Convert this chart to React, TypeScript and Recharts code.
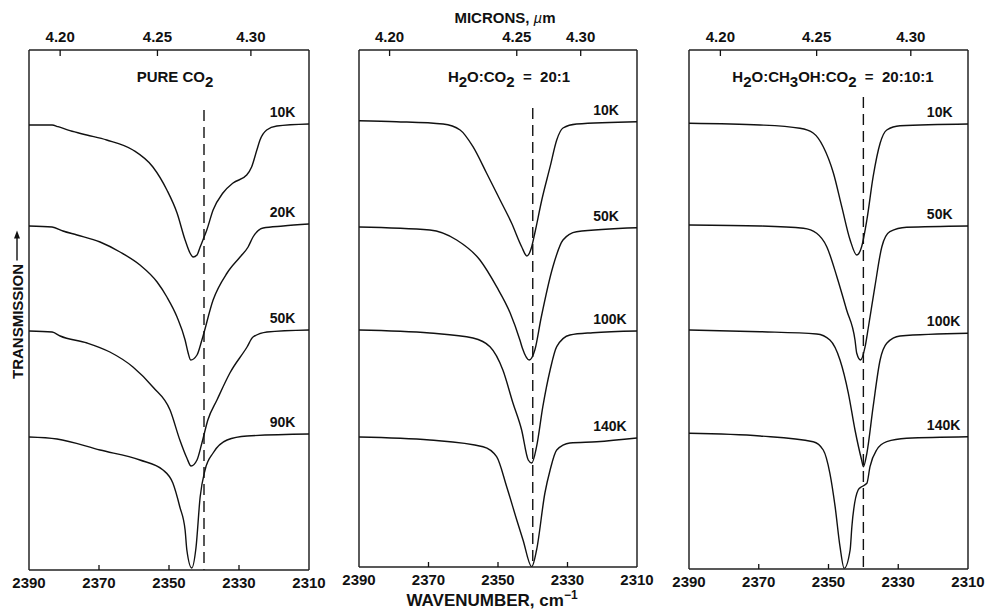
import React from 'react';
import { LineChart, Line, XAxis, YAxis, ReferenceLine, ReferenceDot } from 'recharts';

// ---------- DATA (wavenumber cm^-1, relative transmission with vertical offsets) ----------
const wavenumberTicks = [2390, 2370, 2350, 2330, 2310];
const micronLabels = ['4.20', '4.25', '4.30'];
// positions (in cm^-1) where the micron ticks sit in each panel of the original drawing
const micronTicksPure = [2381.1, 2353.3, 2326.6];
const micronTicksWater = [2381.2, 2344.6, 2326.2];
const micronTicksMeth = [2381.0, 2353.4, 2326.4];
const bandCentre = 2340;

const pureTemps = ['10K', '20K', '50K', '90K'];
const waterTemps = ['10K', '50K', '100K', '140K'];
const methTemps = ['10K', '50K', '100K', '140K'];

type P = [number, number];

const pure10K: P[] = [
  [2390, 44.5], [2383.4, 44.5], [2381.7, 44.33], [2378.3, 43.93], [2373.5, 43.5], [2367.8, 43.0],
  [2360.3, 42.0], [2354.6, 40.3], [2350.6, 38.0], [2347.7, 35.7], [2345.4, 33.0], [2344.0, 31.7],
  [2343.1, 31.3], [2342.0, 31.5], [2341.1, 32.3], [2340.3, 33.0], [2339.2, 34.0], [2337.4, 36.0],
  [2334.6, 37.7], [2331.7, 38.7], [2327.8, 39.5], [2326.4, 40.3], [2324.9, 42.0], [2324.0, 43.0],
  [2322.1, 44.0], [2319.2, 44.4], [2310, 44.6],
];
const pure20K: P[] = [
  [2390, 34.4], [2383.4, 34.3], [2380.3, 33.9], [2376.3, 33.5], [2369.7, 32.8], [2364.0, 31.8],
  [2358.3, 30.5], [2353.4, 28.8], [2350.6, 27.3], [2347.7, 25.3], [2345.4, 23.0], [2344.6, 21.8],
  [2343.8, 21.0], [2342.0, 21.5], [2340.6, 23.0], [2337.4, 27.0], [2333.4, 29.7], [2329.7, 31.3],
  [2327.4, 32.3], [2326.0, 33.3], [2323.1, 34.2], [2317.4, 34.4], [2310, 34.6],
];
const pure50K: P[] = [
  [2390, 23.9], [2383.4, 23.8], [2381.1, 23.4], [2373.4, 22.7], [2366.9, 21.8], [2360.3, 20.3],
  [2354.6, 18.3], [2349.7, 16.0], [2346.9, 13.0], [2344.9, 11.2], [2343.7, 10.4], [2342.0, 11.0],
  [2340.6, 12.7], [2338.9, 15.0], [2336.3, 17.0], [2332.6, 19.7], [2327.7, 22.3], [2326.0, 23.3],
  [2322.0, 23.8], [2310, 24.0],
];
const pure90K: P[] = [
  [2390, 13.3], [2382.0, 13.1], [2369.7, 12.0], [2358.3, 11.0], [2351.7, 10.0], [2348.9, 8.7],
  [2346.9, 6.3], [2345.4, 4.0], [2344.9, 2.0], [2343.5, 0.2], [2342.3, 2.2], [2341.1, 7.3],
  [2339.7, 10.0], [2337.4, 11.7], [2333.4, 13.0], [2327.7, 13.4], [2310, 13.6],
];

const water10K: P[] = [
  [2390, 44.93], [2379.2, 44.83], [2365.8, 44.6], [2360.9, 44.0], [2357.2, 42.33], [2353.3, 39.7],
  [2349.4, 37.0], [2346.1, 34.7], [2343.2, 32.33], [2341.7, 31.4], [2340.3, 32.33], [2339.4, 33.7],
  [2337.4, 37.0], [2335.0, 40.33], [2333.1, 43.0], [2331.3, 44.2], [2327.4, 44.6], [2310, 44.83],
];
const water50K: P[] = [
  [2390, 34.3], [2369.6, 34.0], [2361.9, 33.0], [2355.2, 31.0], [2350.4, 28.33], [2346.5, 25.7],
  [2343.7, 23.0], [2343.0, 22.2], [2341.0, 21.0], [2339.4, 22.0], [2337.6, 25.2], [2334.2, 30.33],
  [2331.3, 33.0], [2327.4, 33.83], [2310, 34.23],
];
const water100K: P[] = [
  [2390, 24.0], [2369.6, 23.7], [2357.2, 23.2], [2352.3, 22.33], [2348.6, 20.0], [2345.7, 16.7],
  [2343.2, 14.0], [2341.3, 11.0], [2340.3, 10.7], [2338.9, 12.33], [2337.1, 16.33], [2335.0, 20.0],
  [2333.1, 22.33], [2329.3, 23.5], [2322.7, 23.73], [2310, 23.9],
];
const water140K: P[] = [
  [2390, 13.3], [2369.6, 13.0], [2354.3, 12.33], [2350.4, 11.33], [2347.5, 8.33], [2344.6, 5.0],
  [2342.8, 3.0], [2340.3, 0.33], [2338.9, 2.0], [2336.5, 7.7], [2335.0, 10.0], [2333.1, 12.0],
  [2329.3, 12.7], [2321.6, 12.83], [2310, 13.2],
];

const meth10K: P[] = [
  [2390, 44.67], [2369.6, 44.5], [2358.2, 44.17], [2354.4, 43.7], [2351.5, 42.33], [2348.6, 39.7],
  [2346.2, 36.33], [2343.8, 33.0], [2341.9, 31.5], [2340.5, 32.33], [2339.0, 35.0], [2337.2, 39.33],
  [2335.2, 42.67], [2333.3, 44.0], [2329.5, 44.43], [2310, 44.6],
];
const meth50K: P[] = [
  [2390, 34.5], [2369.6, 34.4], [2357.2, 34.17], [2353.4, 33.67], [2350.5, 32.33], [2347.6, 29.33],
  [2344.8, 26.0], [2342.4, 23.0], [2341.9, 21.67], [2340.8, 21.0], [2339.5, 22.33], [2338.6, 24.2],
  [2336.7, 28.33], [2334.7, 32.33], [2332.4, 33.83], [2327.6, 34.27], [2310, 34.4],
];
const meth100K: P[] = [
  [2390, 24.0], [2369.6, 23.83], [2353.4, 23.6], [2349.6, 23.0], [2346.7, 21.0], [2344.3, 17.67],
  [2342.4, 14.0], [2340.5, 11.0], [2340.0, 10.33], [2339.0, 11.67], [2337.2, 16.33], [2335.2, 21.0],
  [2333.3, 22.67], [2329.5, 23.4], [2310, 23.67],
];
const meth140K: P[] = [
  [2390, 13.67], [2369.6, 13.4], [2354.4, 12.83], [2351.5, 12.0], [2349.6, 9.67], [2348.1, 6.33],
  [2346.7, 2.33], [2345.5, 0.17], [2343.8, 2.0], [2343.3, 4.33], [2341.5, 8.0], [2340.5, 8.33],
  [2339.0, 8.67], [2338.1, 10.33], [2336.2, 12.0], [2333.3, 12.83], [2327.6, 13.17], [2310, 13.33],
];

// ---------- LAYOUT ----------
const FONT = '"Liberation Sans", Arial, Helvetica, sans-serif';
const INK = '#111';

type Panel = {
  left: number; right: number; bottom: number; yMin: number;
  curves: P[][]; temps: string[]; micron: number[]; labelW: number; dashTop: number;
};

const panels: Panel[] = [
  { left: 29, right: 309, bottom: 570, yMin: 0, curves: [pure10K, pure20K, pure50K, pure90K], temps: pureTemps, micron: micronTicksPure, labelW: 2321.2, dashTop: 46 },
  { left: 359, right: 637, bottom: 567, yMin: 0.3, curves: [water10K, water50K, water100K, water140K], temps: waterTemps, micron: micronTicksWater, labelW: 2322.6, dashTop: 46.2 },
  { left: 689, right: 968, bottom: 569, yMin: 0.1, curves: [meth10K, meth50K, meth100K, meth140K], temps: methTemps, micron: micronTicksMeth, labelW: 2321.8, dashTop: 47.3 },
];

const PAD = 30;
const TOP = 50;
const AXH = 30;

const BottomTick = (props: any) => {
  const { x, y, payload } = props;
  const v = payload.value;
  const edge = v === 2390 || v === 2310;
  return (
    <g>
      {!edge && <line x1={x} y1={y} x2={x} y2={y - 5} stroke={INK} strokeWidth={1.3} />}
      <text x={x} y={y + 18} textAnchor="middle" fontFamily={FONT} fontWeight={700} fontSize={15} fill={INK}>{v}</text>
    </g>
  );
};

const makeTopTick = (positions: number[]) => (props: any) => {
  const { x, y, payload } = props;
  let idx = 0;
  let best = Infinity;
  positions.forEach((p, i) => { const d = Math.abs(p - payload.value); if (d < best) { best = d; idx = i; } });
  return (
    <g>
      <line x1={x} y1={y} x2={x} y2={y + 6} stroke={INK} strokeWidth={1.3} />
      <text x={x} y={y - 8} textAnchor="middle" fontFamily={FONT} fontWeight={700} fontSize={15} fill={INK}>{micronLabels[idx]}</text>
    </g>
  );
};

const PanelChart = ({ p }: { p: Panel }) => {
  const w = p.right - p.left + 2 * PAD;
  const mb = 613 - p.bottom - AXH;
  return (
    <div style={{ position: 'absolute', left: p.left - PAD, top: 0 }}>
      <LineChart width={w} height={613} margin={{ top: TOP - AXH, bottom: mb, left: PAD, right: PAD }}>
        <XAxis xAxisId="b" type="number" dataKey="w" domain={[2310, 2390]} reversed allowDataOverflow
          ticks={wavenumberTicks} interval={0} tick={<BottomTick />} tickLine={false} tickSize={0} tickMargin={0}
          axisLine={{ stroke: '#222', strokeWidth: 1.6 }} height={AXH} />
        <XAxis xAxisId="t" orientation="top" type="number" dataKey="w" domain={[2310, 2390]} reversed allowDataOverflow
          ticks={p.micron} interval={0} tick={makeTopTick(p.micron)} tickLine={false} tickSize={0} tickMargin={0}
          axisLine={{ stroke: '#222', strokeWidth: 1.6 }} height={AXH} />
        <YAxis hide type="number" domain={[p.yMin, 52]} allowDataOverflow />
        <ReferenceLine xAxisId="b" x={2390} stroke="#333" strokeWidth={1.6} />
        <ReferenceLine xAxisId="b" x={2310} stroke="#333" strokeWidth={1.6} />
        <ReferenceLine xAxisId="b" segment={[{ x: bandCentre, y: p.dashTop }, { x: bandCentre, y: p.yMin }]}
          stroke={INK} strokeWidth={1.4} strokeDasharray="11 6" />
        {p.curves.map((c, i) => (
          <Line key={i} xAxisId="b" data={c.map(([wv, t]) => ({ w: wv, t }))} dataKey="t" type="monotone"
            stroke={INK} strokeWidth={1.4} dot={false} isAnimationActive={false} />
        ))}
        {p.curves.map((c, i) => (
          <ReferenceDot key={'l' + i} xAxisId="b" x={p.labelW} y={c[c.length - 1][1] + 1.2} r={0}
            fill="none" stroke="none"
            label={{ value: p.temps[i], position: 'right', offset: 0, fill: INK, fontSize: 14, fontWeight: 700, fontFamily: FONT }} />
        ))}
      </LineChart>
    </div>
  );
};

export default function App() {
  const pre = { whiteSpace: 'pre' as const };
  return (
    <div style={{ position: 'absolute', left: 0, top: 0, width: 985, height: 613, background: '#fff', fontFamily: FONT }}>
      {panels.map((p, i) => <PanelChart key={i} p={p} />)}
      <svg width={985} height={613} style={{ position: 'absolute', left: 0, top: 0, pointerEvents: 'none' }}>
        <g fontFamily={FONT} fill={INK} fontWeight={700} fontSize={15}>
          <text x={505} y={23} textAnchor="middle" style={pre}>MICRONS, <tspan fontStyle="italic" fontWeight={400}>µ</tspan>m</text>
          <text x={175} y={82} textAnchor="middle" style={pre}>PURE CO<tspan dy={5}>2</tspan></text>
          <text x={509} y={82} textAnchor="middle" style={pre}>H<tspan dy={5}>2</tspan><tspan dy={-5}>O:CO</tspan><tspan dy={5}>2</tspan><tspan dy={-5}>{'  =  20:1'}</tspan></text>
          <text x={833} y={82} textAnchor="middle" style={pre}>H<tspan dy={5}>2</tspan><tspan dy={-5}>O:CH</tspan><tspan dy={5}>3</tspan><tspan dy={-5}>OH:CO</tspan><tspan dy={5}>2</tspan><tspan dy={-5}>{'  =  20:10:1'}</tspan></text>
          <text x={492} y={606} textAnchor="middle" fontSize={17} style={pre}>WAVENUMBER, cm<tspan dy={-7} fontSize={12}>−1</tspan></text>
          <g transform="translate(17,321.5) rotate(-90)">
            <text x={0} y={0} textAnchor="middle" dominantBaseline="central">TRANSMISSION</text>
            <line x1={61} y1={0} x2={84} y2={0} stroke={INK} strokeWidth={1.4} />
            <polygon points="83,-3 91,0 83,3" fill={INK} />
          </g>
        </g>
      </svg>
    </div>
  );
}
